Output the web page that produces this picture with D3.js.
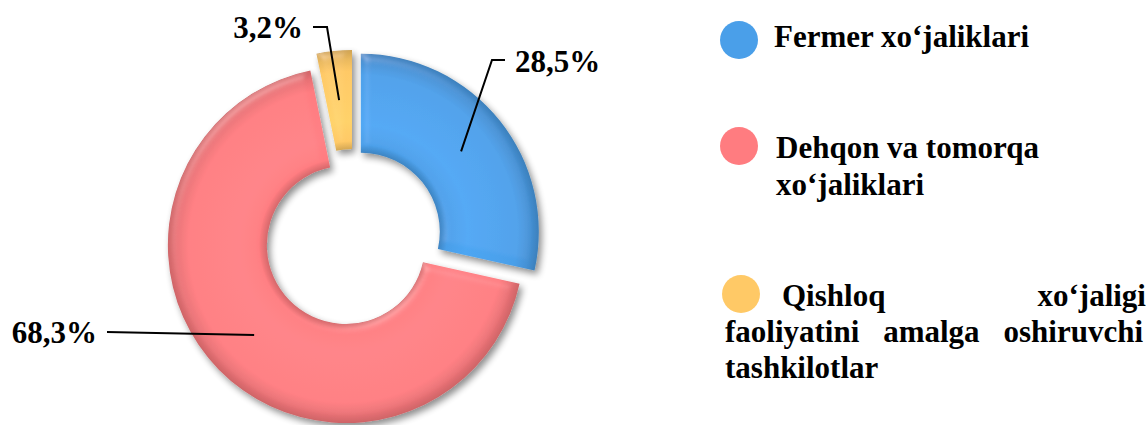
<!DOCTYPE html>
<html><head><meta charset="utf-8">
<script src="https://cdn.jsdelivr.net/npm/d3@7"></script>
<style>
html,body{margin:0;padding:0;background:#fff;}
svg{display:block;}
</style></head>
<body>
<svg id="chart" width="1146" height="425"></svg>
<script>
// ---- data ----
const categories = ["Fermer xo‘jaliklari", "Dehqon va tomorqa xo‘jaliklari", "Qishloq xo‘jaligi faoliyatini amalga oshiruvchi tashkilotlar"];
const values = [28.5, 68.3, 3.2];
const valueLabels = ["28,5%", "68,3%", "3,2%"];
const colors = ["#4A9FE9", "#FF7C80", "#FFC966"];
const legendLines = [
  ["Fermer xo‘jaliklari"],
  ["Dehqon va tomorqa", "xo‘jaliklari"],
  ["Qishloq xo‘jaligi", "faoliyatini amalga oshiruvchi", "tashkilotlar"]
];

// ---- layout ----
const cx = 353, cy = 238, R = 178, r = 79, explode = 10;
const labelFont = 31, legendFont = 31;
const FONT = '"Liberation Serif"';

const svg = d3.select("#chart");
const defs = svg.append("defs");

function txt(sel, size) {
  return sel.style("font-family", FONT).style("font-weight", "bold").style("font-size", size + "px").attr("fill", "#000");
}

// shadow + bevel filter
const f = defs.append("filter").attr("id", "fx").attr("x", "-20%").attr("y", "-20%").attr("width", "140%").attr("height", "140%");
f.append("feGaussianBlur").attr("in", "SourceAlpha").attr("stdDeviation", 4).attr("result", "blur");
const spec = f.append("feSpecularLighting").attr("in", "blur").attr("surfaceScale", 4)
  .attr("specularConstant", 0.3).attr("specularExponent", 22).attr("lighting-color", "#ffffff").attr("result", "spec");
spec.append("feDistantLight").attr("azimuth", 235).attr("elevation", 40);
f.append("feComposite").attr("in", "spec").attr("in2", "SourceAlpha").attr("operator", "in").attr("result", "specIn");
f.append("feComposite").attr("in", "SourceGraphic").attr("in2", "specIn").attr("operator", "arithmetic")
  .attr("k1", 0).attr("k2", 1).attr("k3", 0.5).attr("k4", 0).attr("result", "lit");
f.append("feGaussianBlur").attr("in", "SourceAlpha").attr("stdDeviation", 3.5).attr("result", "sblur");
f.append("feOffset").attr("in", "sblur").attr("dx", 3).attr("dy", 4).attr("result", "soff");
f.append("feComponentTransfer").attr("in", "soff").attr("result", "sfade")
  .append("feFuncA").attr("type", "linear").attr("slope", 0.45);
const merge = f.append("feMerge");
merge.append("feMergeNode").attr("in", "sfade");
merge.append("feMergeNode").attr("in", "lit");

const pie = d3.pie().sort(null).value(d => d).startAngle(0).endAngle(2 * Math.PI);
const arcs = pie(values);
const arc = d3.arc().innerRadius(r).outerRadius(R);

const offsets = arcs.map(a => {
  const m = (a.startAngle + a.endAngle) / 2;
  return [cx + explode * Math.sin(m), cy - explode * Math.cos(m)];
});

arcs.forEach((a, i) => {
  const base = d3.color(colors[i]);
  const g = defs.append("radialGradient").attr("id", "g" + i)
    .attr("gradientUnits", "userSpaceOnUse")
    .attr("cx", 0).attr("cy", 0).attr("r", R);
  const stops = [
    [r / R, base.darker(0.5)],
    [(r + 8) / R, base],
    [0.6, base.brighter(0.12)],
    [0.88, base],
    [0.95, base.darker(0.25)],
    [1, base.darker(0.6)]
  ];
  stops.forEach(s => g.append("stop").attr("offset", s[0]).attr("stop-color", s[1].formatHex()));
});

const slices = svg.append("g").selectAll("g").data(arcs).join("g")
  .attr("transform", (d, i) => `translate(${offsets[i][0]},${offsets[i][1]})`);
slices.append("path").attr("d", arc).attr("fill", (d, i) => `url(#g${i})`).attr("filter", "url(#fx)");

// leader lines + labels
const labelPos = [
  { elbow: [492, 60], end: [505, 60], text: [515, 72], anchor: "start" },
  { elbow: [107, 332], end: [107, 332], text: [97, 343], anchor: "end" },
  { elbow: [327, 27], end: [313, 27], text: [303, 38], anchor: "end" }
];
const lg = svg.append("g");
arcs.forEach((a, i) => {
  const c = arc.centroid(a);
  const p0 = [c[0] + offsets[i][0], c[1] + offsets[i][1]];
  const L = labelPos[i];
  lg.append("path").attr("d", d3.line()([p0, L.elbow, L.end]))
    .attr("fill", "none").attr("stroke", "#000").attr("stroke-width", 2);
  txt(lg.append("text"), labelFont).attr("x", L.text[0]).attr("y", L.text[1]).attr("text-anchor", L.anchor)
    .text(valueLabels[i]);
});

// legend
const leg = svg.append("g");
const legItems = [
  { dot: [739, 40], lines: [{ x: 774, y: 47, justify: null }] },
  { dot: [739, 146], lines: [{ x: 776, y: 158, justify: null }, { x: 776, y: 195, justify: null }] },
  { dot: [741, 294], lines: [{ x: 782, y: 306, justify: 1146 }, { x: 725, y: 342, justify: 1143 }, { x: 725, y: 378, justify: null }] }
];
legItems.forEach((it, i) => {
  leg.append("circle").attr("cx", it.dot[0]).attr("cy", it.dot[1]).attr("r", 19).attr("fill", colors[i]);
  it.lines.forEach((ln, j) => {
    const str = legendLines[i][j];
    if (!ln.justify) {
      txt(leg.append("text"), legendFont).attr("x", ln.x).attr("y", ln.y).text(str);
    } else {
      const words = str.split(" ");
      const nodes = words.map(w => txt(leg.append("text"), legendFont).attr("y", ln.y).text(w));
      const widths = nodes.map(n => n.node().getComputedTextLength());
      const total = d3.sum(widths);
      const gap = (ln.justify - ln.x - total) / (words.length - 1);
      let x = ln.x;
      nodes.forEach((n, k) => { n.attr("x", x); x += widths[k] + gap; });
    }
  });
});
</script>
</body></html>
